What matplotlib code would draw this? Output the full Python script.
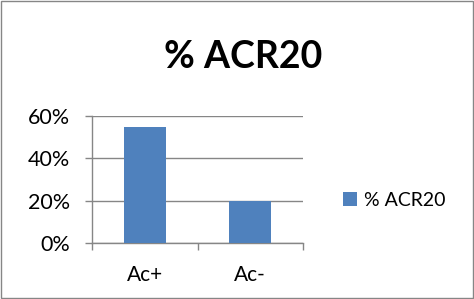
import matplotlib
matplotlib.use('Agg')
from matplotlib import pyplot as plt
from matplotlib.ticker import FuncFormatter
from matplotlib.patches import Rectangle

categories = ['Ac+', 'Ac-']
acr20 = [0.55, 0.20]
series_name = '% ACR20'
title = '% ACR20'
yticks = [0.0, 0.2, 0.4, 0.6]

plt.rcParams['font.family'] = ['Lato', 'DejaVu Sans']

fig = plt.figure(figsize=(4.74, 2.99), dpi=100, facecolor='w')
# outer chart border
fig.patches.append(Rectangle((0.002, 0.003), 0.995, 0.993, transform=fig.transFigure,
                             fill=False, edgecolor='#868686', lw=1))
ax = fig.add_axes([92 / 474, 1 - 243 / 299, (303 - 92) / 474, (243 - 116) / 299])

x = list(range(len(categories)))
ax.bar(x, acr20, width=0.4, color='#4F81BD', label=series_name, zorder=3)

ax.set_xlim(-0.5, len(categories) - 0.5)
ax.set_ylim(0, 0.6)
ax.set_yticks(yticks)
ax.yaxis.set_major_formatter(FuncFormatter(lambda v, p: f'{v * 100:.0f}%'))
ax.grid(True, axis='y', color='#868686', lw=1, zorder=0)

# category labels centred, tick marks between categories
ax.set_xticks(x)
ax.set_xticklabels(categories)
ax.set_xticks([i - 0.5 for i in range(len(categories) + 1)], minor=True)
ax.tick_params(axis='x', which='major', length=0, pad=16, labelsize=15)
ax.tick_params(axis='x', which='minor', length=5, color='#868686', width=1)
ax.tick_params(axis='y', length=5, color='#868686', width=1, labelsize=15.5, pad=11)

for side in ['top', 'right']:
    ax.spines[side].set_visible(False)
for side in ['left', 'bottom']:
    ax.spines[side].set_color('#868686')
    ax.spines[side].set_linewidth(1)

fig.text(0.513, 0.81, title, ha='center', va='center', fontsize=27, fontweight='bold')

fig.legend(loc='center left', bbox_to_anchor=(0.7236, 0.331), frameon=False,
           borderaxespad=0, borderpad=0,
           fontsize=14, handlelength=0.72, handleheight=0.72, handletextpad=0.35)

fig.savefig('out.png', dpi=100)
